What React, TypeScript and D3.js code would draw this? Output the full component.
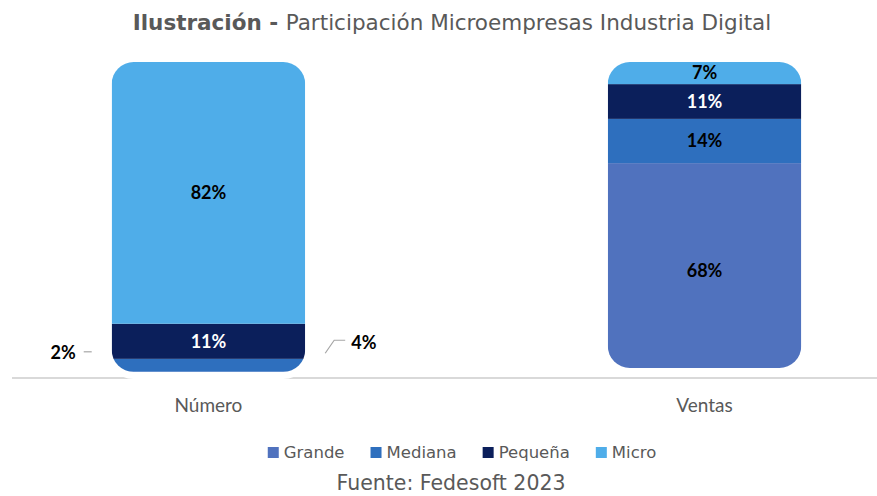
import { useEffect, useRef } from "react";
import * as d3 from "d3";

const categories = ["Número", "Ventas"];
const seriesNames = ["Grande", "Mediana", "Pequeña", "Micro"];
const grande = [2, 68];
const mediana = [4, 14];
const pequena = [11, 11];
const micro = [82, 7];

const colors = ["#5072BE", "#2E6FBE", "#0B1F5B", "#4FADE9"];
const labelColors = ["#000", "#000", "#fff", "#000"];

export default function App() {
  const svgRef = useRef<SVGSVGElement | null>(null);

  useEffect(() => {
    document.body.style.margin = "0";
    if (!svgRef.current) return;
    const W = 877;
    const H = 496;
    const svg = d3.select(svgRef.current);
    svg.selectAll("*").remove();
    svg.attr("width", W).attr("height", H).attr("viewBox", `0 0 ${W} ${H}`);

    const rows = categories.map((c, i) => ({
      cat: c,
      Grande: grande[i],
      Mediana: mediana[i],
      Pequeña: pequena[i],
      Micro: micro[i],
    }));

    // 100% stacked, like the Excel original
    const stack = d3
      .stack<any>()
      .keys(seriesNames)
      .offset(d3.stackOffsetExpand);
    const series = stack(rows);

    const x = d3
      .scaleBand()
      .domain(categories)
      .range([12.5, 900.5])
      .paddingInner(0.61)
      .paddingOuter(0.2);
    const y = d3.scaleLinear().domain([0, 1]).range([378, 62]);

    const gray = "#595959";
    const radius = 22;
    const bottomInset = [6, 10]; // the rounded shape cuts the bar foot
    const halo = 7;

    // title
    const title = svg
      .append("text")
      .attr("x", 452)
      .attr("y", 30)
      .attr("text-anchor", "middle")
      .attr("fill", gray)
      .style("font-family", "'DejaVu Sans', Verdana, sans-serif")
      .style("font-size", "21.5px");
    title.append("tspan").attr("font-weight", "bold").text("Ilustración - ");
    title.append("tspan").text("Participación Microempresas Industria Digital");

    // baseline
    svg
      .append("line")
      .attr("x1", 12)
      .attr("x2", W)
      .attr("y1", y(0))
      .attr("y2", y(0))
      .attr("stroke", "#d9d9d9")
      .attr("stroke-width", 2);

    const defs = svg.append("defs");

    categories.forEach((c, i) => {
      const x0 = x(c)!;
      const bw = x.bandwidth();
      const top = y(1);
      const bottom = y(0) - bottomInset[i];

      svg
        .append("rect")
        .attr("x", x0 - halo)
        .attr("y", top - halo)
        .attr("width", bw + halo * 2)
        .attr("height", bottom - top + halo * 2)
        .attr("rx", radius + halo)
        .attr("fill", "#fff");

      defs
        .append("clipPath")
        .attr("id", `clip-${i}`)
        .append("rect")
        .attr("x", x0)
        .attr("y", top)
        .attr("width", bw)
        .attr("height", bottom - top)
        .attr("rx", radius);

      const g = svg.append("g").attr("clip-path", `url(#clip-${i})`);
      series.forEach((s, k) => {
        const d = s[i];
        g.append("rect")
          .attr("x", x0)
          .attr("y", y(d[1]))
          .attr("width", bw)
          .attr("height", y(d[0]) - y(d[1]))
          .attr("fill", colors[k]);
      });
    });

    // value labels
    const lab = svg
      .append("g")
      .style("font-family", "Lato, 'Open Sans', sans-serif")
      .style("font-weight", "bold")
      .style("font-size", "18px");

    series.forEach((s, k) => {
      s.forEach((d, i) => {
        const x0 = x(categories[i])!;
        const bw = x.bandwidth();
        const cy = (y(d[0]) + y(d[1])) / 2;
        const h = y(d[0]) - y(d[1]);
        const txt = `${(d.data as any)[seriesNames[k]]}%`;
        if (h >= 18) {
          lab
            .append("text")
            .attr("x", x0 + bw / 2)
            .attr("y", cy)
            .attr("dy", "0.35em")
            .attr("text-anchor", "middle")
            .attr("fill", labelColors[k])
            .text(txt);
        } else if (k === 0) {
          const ly = cy - 22;
          svg
            .append("line")
            .attr("x1", x0 - 28)
            .attr("x2", x0 - 20)
            .attr("y1", ly - 1)
            .attr("y2", ly - 1)
            .attr("stroke", "#a6a6a6")
            .attr("stroke-width", 1.2);
          lab
            .append("text")
            .attr("x", x0 - 36)
            .attr("y", ly)
            .attr("dy", "0.35em")
            .attr("text-anchor", "end")
            .attr("fill", "#000")
            .text(txt);
        } else {
          const ly = cy - 23;
          const x1 = x0 + bw;
          svg
            .append("polyline")
            .attr(
              "points",
              `${x1 + 20},${ly + 11} ${x1 + 29},${ly - 2} ${x1 + 40},${ly - 2}`
            )
            .attr("fill", "none")
            .attr("stroke", "#a6a6a6")
            .attr("stroke-width", 1.2);
          lab
            .append("text")
            .attr("x", x1 + 46)
            .attr("y", ly)
            .attr("dy", "0.35em")
            .attr("text-anchor", "start")
            .attr("fill", "#000")
            .text(txt);
        }
      });
    });

    // category labels
    svg
      .append("g")
      .selectAll("text")
      .data(categories)
      .join("text")
      .attr("x", (d) => x(d)! + x.bandwidth() / 2)
      .attr("y", 412)
      .attr("text-anchor", "middle")
      .attr("fill", gray)
      .style("font-family", "Lato, sans-serif")
      .style("font-size", "19px")
      .text((d) => d);

    // legend
    const legend = svg
      .append("g")
      .style("font-family", "'DejaVu Sans', Verdana, sans-serif")
      .style("font-size", "16.5px");
    const gap = 26;
    let cx = 0;
    seriesNames.forEach((n, k) => {
      const it = legend.append("g").attr("transform", `translate(${cx},0)`);
      it.append("rect")
        .attr("x", 0)
        .attr("y", -5)
        .attr("width", 11)
        .attr("height", 11)
        .attr("fill", colors[k]);
      const t = it
        .append("text")
        .attr("x", 16)
        .attr("y", 0)
        .attr("dy", "0.35em")
        .attr("fill", gray)
        .text(n);
      const tw = (t.node() as SVGTextElement).getComputedTextLength();
      cx += 16 + tw + gap;
    });
    const total = cx - gap;
    legend.attr("transform", `translate(${462 - total / 2},452)`);

    // source
    svg
      .append("text")
      .attr("x", 451)
      .attr("y", 490)
      .attr("text-anchor", "middle")
      .attr("fill", gray)
      .style("font-family", "'DejaVu Sans', Verdana, sans-serif")
      .style("font-size", "20.5px")
      .text("Fuente: Fedesoft 2023");
  }, []);

  return <svg ref={svgRef} style={{ display: "block" }} />;
}
